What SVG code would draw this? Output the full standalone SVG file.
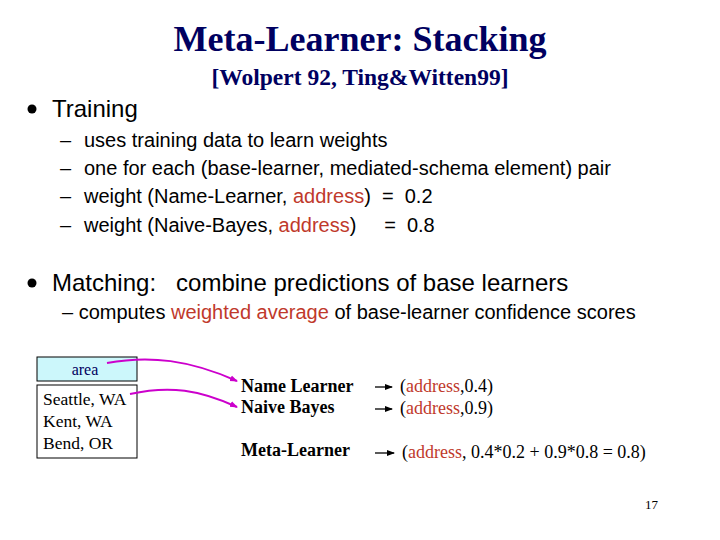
<svg xmlns="http://www.w3.org/2000/svg" width="720" height="540" viewBox="0 0 720 540">
<style>
.t{font-family:"Liberation Serif",serif}
.s{font-family:"Liberation Sans",sans-serif;font-size:20px}
.big{font-size:24px}
.pre{white-space:pre}
.r{fill:#c0392b}
.b{font-family:"Liberation Serif",serif;font-weight:bold;font-size:18px}
.v{font-family:"Liberation Serif",serif;font-size:18px}
</style>
<defs>
<marker id="m" markerWidth="8" markerHeight="8" refX="7" refY="4" orient="auto" markerUnits="userSpaceOnUse"><path d="M0,1 L8,4 L0,7 z" fill="#cc00cc"/></marker>
<marker id="k" markerWidth="8" markerHeight="8" refX="7" refY="4" orient="auto" markerUnits="userSpaceOnUse"><path d="M0,1 L8,4 L0,7 z" fill="#000"/></marker>
</defs>
<rect width="720" height="540" fill="#fff"/>
<text x="360" y="51" text-anchor="middle" class="t" font-size="36" font-weight="bold" fill="#000060">Meta-Learner: Stacking</text>
<text x="360" y="85" text-anchor="middle" class="t" font-size="23.5" font-weight="bold" fill="#000060">[Wolpert 92, Ting&amp;Witten99]</text>
<circle cx="32" cy="109" r="4.5" fill="#000"/>
<text x="52" y="117" class="s big">Training</text>
<g class="s">
<text x="60" y="147">–</text><text x="84" y="147">uses training data to learn weights</text>
<text x="60" y="175">–</text><text x="84" y="175">one for each (base-learner, mediated-schema element) pair</text>
<text x="60" y="203">–</text><text x="84" y="203" class="pre">weight (Name-Learner, <tspan class="r">address</tspan>)  =  0.2</text>
<text x="60" y="232">–</text><text x="84" y="232" class="pre">weight (Naive-Bayes, <tspan class="r">address</tspan>)     =  0.8</text>
</g>
<circle cx="32" cy="283" r="4.5" fill="#000"/>
<text x="52" y="291" class="s big pre">Matching:   combine predictions of base learners</text>
<text x="62" y="319" class="s">– computes <tspan class="r">weighted average</tspan> of base-learner confidence scores</text>
<g id="area"><rect x="37" y="357" width="100" height="24" fill="#ccf7fb" stroke="#000"/><text x="85" y="375" text-anchor="middle" class="v" style="font-size:16px" fill="#000060">area</text></g>
<g id="data"><rect x="37" y="385" width="100" height="73" fill="#fff" stroke="#000"/>
<text x="43" y="405" class="v" style="font-size:17.5px">Seattle, WA</text><text x="43" y="427" class="v" style="font-size:17.5px">Kent, WA</text><text x="43" y="449" class="v" style="font-size:17.5px">Bend, OR</text></g>
<g id="learners">
<text x="241" y="392" class="b">Name Learner</text>
<text x="241" y="413" class="b">Naive Bayes</text>
<text x="241" y="456" class="b">Meta-Learner</text>
</g>
<g id="results" class="v">
<text x="400" y="392">(<tspan class="r">address</tspan>,0.4)</text>
<text x="400" y="414">(<tspan class="r">address</tspan>,0.9)</text>
<text x="402" y="458">(<tspan class="r">address</tspan>, 0.4*0.2 + 0.9*0.8 = 0.8)</text>
</g>
<g id="connectors" fill="none">
<path d="M107,363 C150,355 190,360 237,381" stroke="#cc00cc" stroke-width="2" marker-end="url(#m)"/>
<path d="M130,394 C170,385 200,390 237,407" stroke="#cc00cc" stroke-width="2" marker-end="url(#m)"/>
<g stroke="#000" stroke-width="1.3">
<line x1="375" y1="387" x2="392" y2="387" marker-end="url(#k)"/>
<line x1="375" y1="409" x2="392" y2="409" marker-end="url(#k)"/>
<line x1="375" y1="453" x2="394" y2="453" marker-end="url(#k)"/>
</g></g>
<text x="658" y="509" text-anchor="end" class="t" font-size="13">17</text>
</svg>
